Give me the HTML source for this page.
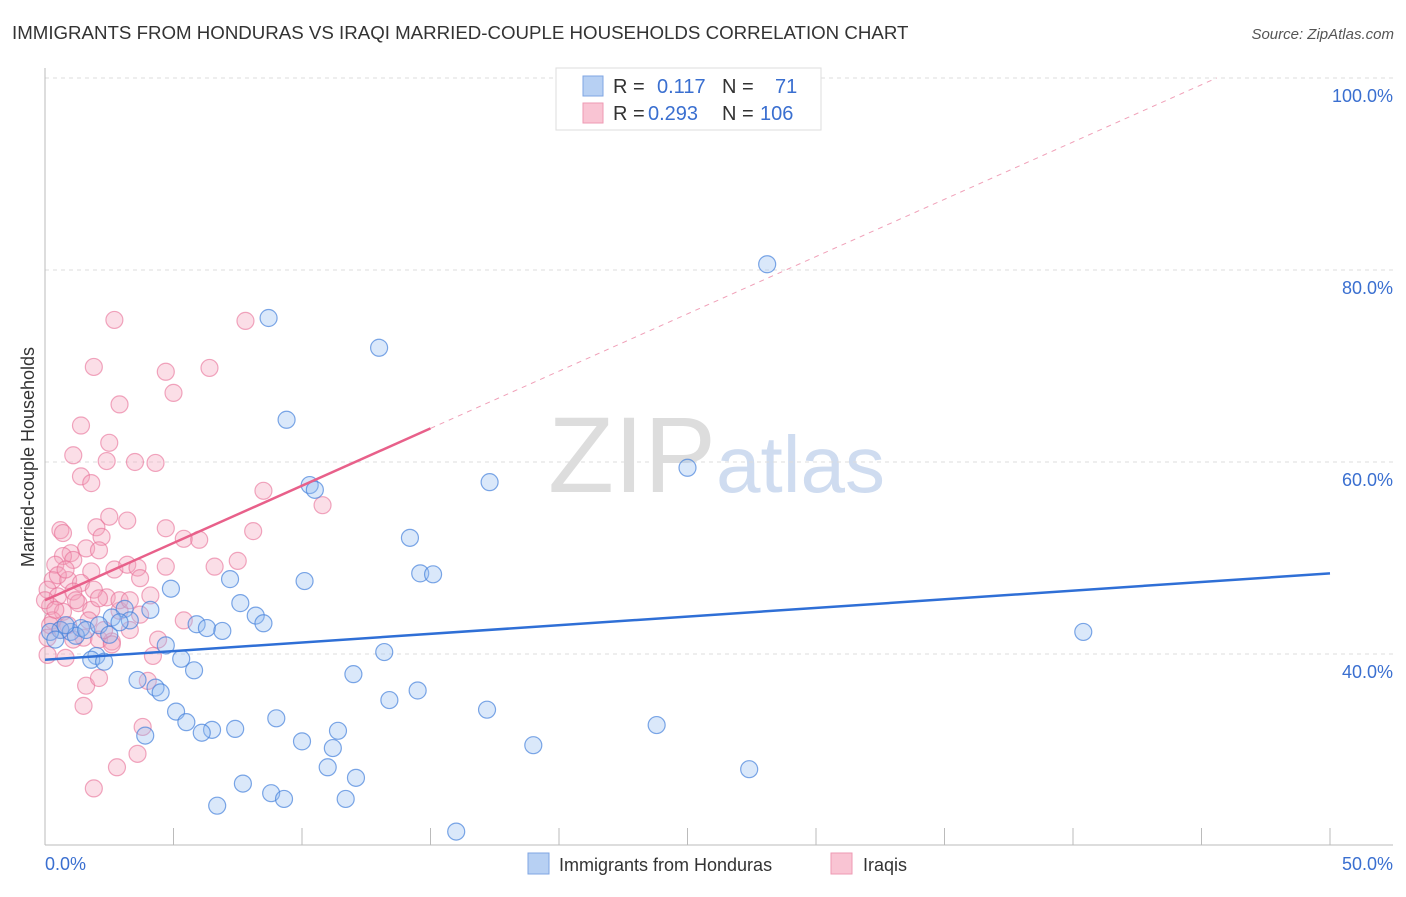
<!DOCTYPE html>
<html><head><meta charset="utf-8"><style>
body{margin:0;background:#fff;font-family:"Liberation Sans",sans-serif}
svg text{font-family:"Liberation Sans",sans-serif}
</style></head><body>
<svg id="c" width="1406" height="892">
<text x="12" y="39" font-size="18.7" fill="#333">IMMIGRANTS FROM HONDURAS VS IRAQI MARRIED-COUPLE HOUSEHOLDS CORRELATION CHART</text>
<text x="1394" y="39" font-size="15" fill="#555" font-style="italic" text-anchor="end">Source: ZipAtlas.com</text>
<text x="716" y="492" font-size="108" fill="#ddd" text-anchor="end" font-family="Liberation Serif">ZIP</text>
<text x="716" y="492" font-size="80" fill="#cfdcf0">atlas</text>
<text transform="translate(34,457) rotate(-90)" font-size="18" fill="#333" text-anchor="middle">Married-couple Households</text>
<g id="grid"></g><g id="pts"></g><g id="lines"></g>
<g>
<rect x="556" y="68" width="265" height="62" fill="#fff" stroke="#ddd"/>
<rect x="583" y="76" width="20" height="20" fill="#b7d0f3" stroke="#7fa6e3"/>
<rect x="583" y="103" width="20" height="20" fill="#f9c4d3" stroke="#ee9ab3"/>
<text x="613" y="93" font-size="20" fill="#333">R = </text><text x="657" y="93" font-size="20" fill="#3a6fd0">0.117</text>
<text x="722" y="93" font-size="20" fill="#333">N = </text><text x="775" y="93" font-size="20" fill="#3a6fd0">71</text>
<text x="613" y="120" font-size="20" fill="#333">R = </text><text x="648" y="120" font-size="20" fill="#3a6fd0">0.293</text>
<text x="722" y="120" font-size="20" fill="#333">N = </text><text x="760" y="120" font-size="20" fill="#3a6fd0">106</text>
</g>
<g>
<rect x="528" y="853" width="21" height="21" fill="#b7d0f3" stroke="#7fa6e3"/>
<text x="559" y="871" font-size="18" fill="#333">Immigrants from Honduras</text>
<rect x="831" y="853" width="21" height="21" fill="#f9c4d3" stroke="#ee9ab3"/>
<text x="863" y="871" font-size="18" fill="#333">Iraqis</text>
</g>
</svg>
<script>
const yTicks=[40,60,80,100];
const xTickLabels=["0.0%","50.0%"];
const blueX=[28.1,8.7,13.0,9.4,25.0,17.3,10.3,10.5,14.2,14.6,15.1,10.1,4.9,7.2,7.6,4.1,3.1,2.6,3.3,8.2,8.5,5.9,6.3,6.9,4.7,5.3,2.0,1.8,2.3,13.2,40.4,5.8,12.0,3.6,4.3,4.5,14.5,13.4,5.1,9.0,17.2,23.8,5.5,6.5,6.1,7.4,11.4,10.0,11.2,3.9,19.0,11.0,12.1,27.4,7.7,8.8,9.3,11.7,6.7,16.0,0.6,1.0,1.4,1.2,0.2,0.8,1.6,2.1,2.5,0.4,2.9];
const blueY=[80.6,75.0,71.9,64.4,59.4,57.9,57.6,57.1,52.1,48.4,48.3,47.6,46.8,47.8,45.3,44.6,44.7,43.8,43.5,44.0,43.2,43.1,42.7,42.4,40.9,39.5,39.8,39.4,39.2,40.2,42.3,38.3,37.9,37.3,36.5,36.0,36.2,35.2,34.0,33.3,34.2,32.6,32.9,32.1,31.8,32.2,32.0,30.9,30.2,31.5,30.5,28.2,27.1,28.0,26.5,25.5,24.9,24.9,24.2,21.5,42.5,42.3,42.7,41.9,42.3,43.0,42.5,43.0,42.0,41.5,43.3];
const pinkX=[2.7,7.8,1.9,4.7,6.4,5.0,2.9,1.4,2.5,1.1,2.4,3.5,4.3,1.4,1.8,8.5,10.8,2.5,3.2,0.6,0.7,4.7,2.0,5.4,2.2,6.0,8.1,1.6,1.0,0.7,2.1,1.1,2.7,3.2,3.6,7.5,6.6,4.7,3.7,1.8,0.4,0.3,0.9,1.4,0.1,0.5,1.1,0.2,2.4,1.3,0.7,0.3,0.9,1.8,2.9,3.7,0.2,0.6,0.1,1.5,2.1,2.6,3.3,4.4,5.4,4.2,0.8,2.6,1.6,2.1,1.5,4.0,3.8,3.6,2.8,1.9,1.2,0.5,1.9,0.8,0.0,0.4,1.7,2.3,1.1,0.1,2.9,2.1,4.1,3.3];
const pinkY=[74.8,74.7,69.9,69.4,69.8,67.2,66.0,63.8,62.0,60.7,60.1,60.0,59.9,58.5,57.8,57.0,55.5,54.3,53.9,52.9,52.6,53.1,53.2,52.0,52.2,51.9,52.8,51.0,50.5,50.2,50.8,49.8,48.8,49.3,49.0,49.7,49.1,49.1,47.9,48.6,49.3,47.7,47.7,47.4,46.7,46.0,46.5,45.0,45.9,45.3,44.4,43.5,43.0,44.6,44.5,44.1,43.0,42.5,41.7,41.7,41.5,41.3,42.5,41.5,43.5,39.8,39.6,41.0,36.7,37.5,34.6,37.2,32.4,29.6,28.2,26.0,45.6,48.2,46.7,48.8,45.6,44.6,43.5,42.5,41.5,39.9,45.6,45.8,46.1,45.6];
const blueTrend=[39.4,48.4];
const pinkTrend=[45.6,63.5];
const NS="http://www.w3.org/2000/svg";
const X=v=>45+v*25.7, Y=v=>654-(v-40)*9.6;
function mk(t,a,p){const e=document.createElementNS(NS,t);for(const k in a)e.setAttribute(k,a[k]);p.appendChild(e);return e;}
const grid=document.getElementById('grid');
yTicks.forEach(t=>{
 const l=mk('line',{x1:45,x2:1393,y1:Y(t),y2:Y(t),stroke:'#ddd','stroke-dasharray':'4,4'},grid);
 
 
 const tx=mk('text',{x:1393,y:Y(t)+24,'font-size':18,fill:'#3a6fd0','text-anchor':'end'},grid);
 tx.textContent=t.toFixed(1)+'%';
 
 
});
const ax=mk('line',{x1:45,x2:45,y1:68,y2:845,stroke:'#bbb'},grid);


const bx=mk('line',{x1:45,x2:1393,y1:845,y2:845,stroke:'#bbb'},grid);


for(let i=1;i<=10;i++){const tk=mk('line',{x1:X(i*5),x2:X(i*5),y1:828,y2:845,stroke:'#bbb'},grid);
 
 }
[[0,'start',45],[50,'end',1393]].forEach((d,i)=>{const tx=mk('text',{x:d[2],y:870,'font-size':18,fill:'#3a6fd0','text-anchor':d[1]},grid);
 tx.textContent=xTickLabels[i];
 
 });
const pts=document.getElementById('pts');
pinkX.forEach((x,i)=>{const c=mk('circle',{cx:X(x),cy:Y(pinkY[i]),r:8.5,fill:'rgba(244,160,185,0.35)',stroke:'rgba(232,110,150,0.6)','stroke-width':1.2},pts);
 
 });
blueX.forEach((x,i)=>{const c=mk('circle',{cx:X(x),cy:Y(blueY[i]),r:8.5,fill:'rgba(150,190,240,0.35)',stroke:'rgba(70,130,220,0.7)','stroke-width':1.2},pts);
 
 });
const lines=document.getElementById('lines');
const bl=mk('line',{x1:X(0),y1:Y(blueTrend[0]),x2:X(50),y2:Y(blueTrend[1]),stroke:'#2f6fd6','stroke-width':2.5},lines);


const slope=(pinkTrend[1]-pinkTrend[0])/15;
const xEnd=(100-pinkTrend[0])/slope;
const pd=mk('line',{x1:X(15),y1:Y(pinkTrend[1]),x2:X(xEnd),y2:Y(100),stroke:'#f0a0b8','stroke-width':1,'stroke-dasharray':'5,5'},lines);


const pl=mk('line',{x1:X(0),y1:Y(pinkTrend[0]),x2:X(15),y2:Y(pinkTrend[1]),stroke:'#e8608a','stroke-width':2.5},lines);


</script>
</body></html>
